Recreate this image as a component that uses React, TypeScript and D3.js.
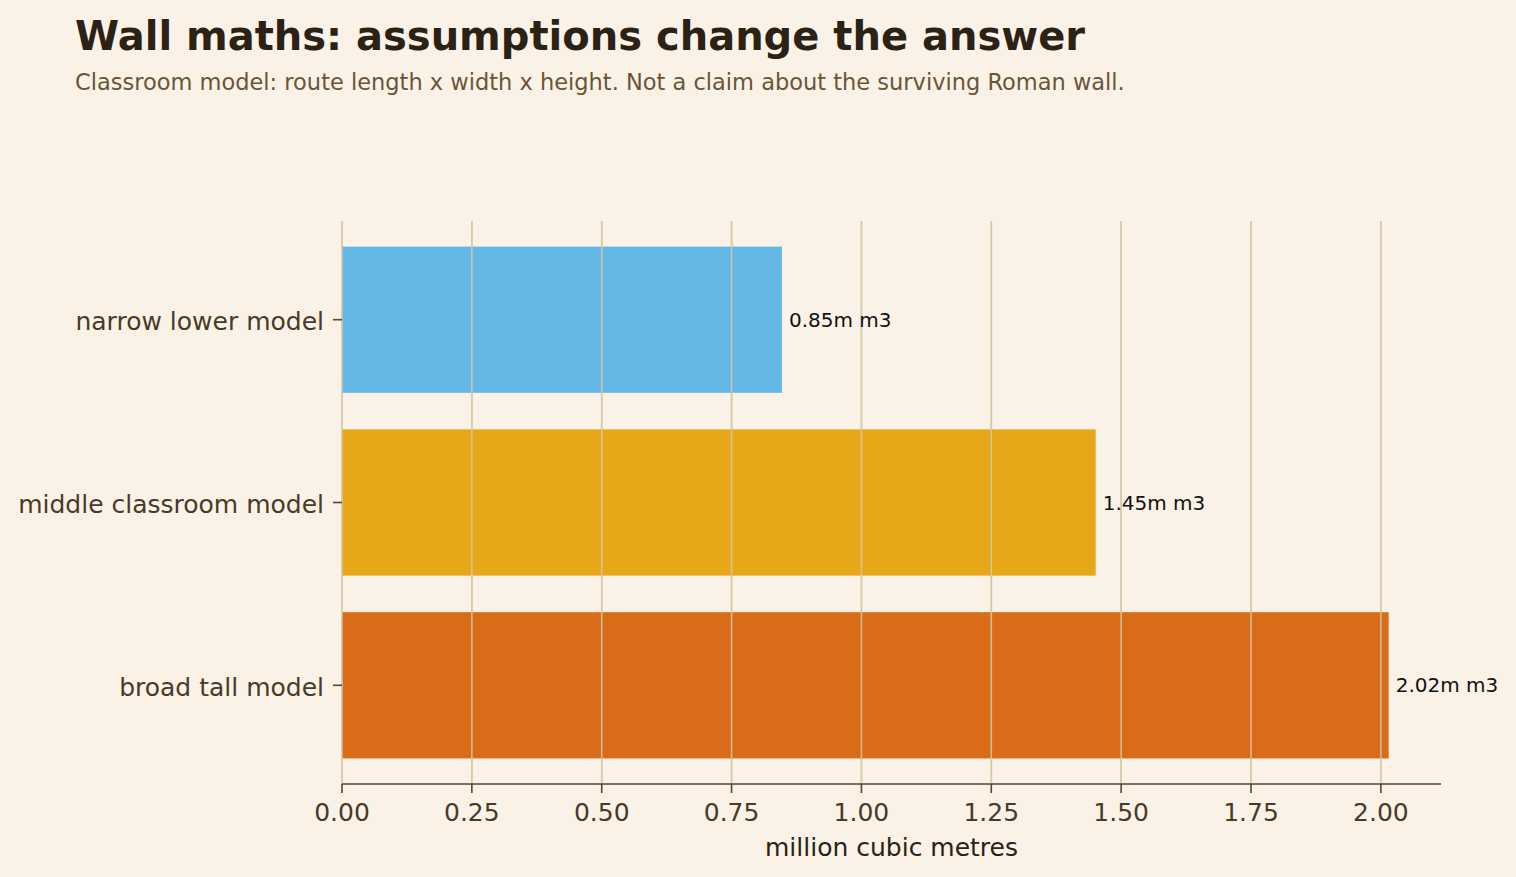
import * as d3 from 'd3';
import { ReactElement } from 'react';

// ─ Data ─────────────────────────────────────────────────────────────────────
const categories = ['broad tall model', 'middle classroom model', 'narrow lower model'];
const volumes = [2.015, 1.451, 0.847];
const valueLabels = ['2.02m m3', '1.45m m3', '0.85m m3'];
const barColors = ['#D86C18', '#E6A718', '#65B8E6'];
const xTicks = [0, 0.25, 0.5, 0.75, 1.0, 1.25, 1.5, 1.75, 2.0];

const W = 1516;
const H = 877;
const FONT = '"DejaVu Sans", sans-serif';

const App = (): ReactElement => {
  const plot = { left: 342, right: 1441, top: 221, bottom: 784 };

  const xMax = d3.max(volumes)! * 1.05;
  const x = d3.scaleLinear().domain([0, xMax]).range([plot.left, plot.right]);

  // matplotlib-style categorical axis: index 0 at bottom, 0.05 margins
  const y = d3.scaleLinear()
    .domain([-0.54, categories.length - 1 + 0.54])
    .range([plot.bottom, plot.top]);
  const barH = Math.abs(y(0.4) - y(-0.4));

  return (
    <div>
      <style>{'body{margin:0;background:#FAF2E6;}'}</style>
      <svg width={W} height={H} style={{ display: 'block', background: '#FAF2E6' }} fontFamily={FONT}>
        <rect width={W} height={H} fill="#FAF2E6" />

        {/* Title */}
        <text x={75} y={50} fontSize={40} fontWeight="bold" fill="#2B2215">
          Wall maths: assumptions change the answer
        </text>
        <text x={75} y={90} fontSize={22.5} fill="#6B5536">
          Classroom model: route length x width x height. Not a claim about the surviving Roman wall.
        </text>

        {/* Grid (under bars) */}
        {xTicks.map(t => (
          <line key={`g${t}`} x1={x(t)} x2={x(t)} y1={plot.top} y2={plot.bottom}
            stroke="#DDCCAE" strokeWidth={1.6} />
        ))}

        {/* Bars */}
        {volumes.map((v, i) => (
          <rect key={categories[i]} x={x(0)} y={y(i) - barH / 2}
            width={x(v) - x(0)} height={barH} fill={barColors[i]} />
        ))}

        {/* Grid over bars */}
        {xTicks.map(t => (
          <line key={`go${t}`} x1={x(t)} x2={x(t)} y1={plot.top} y2={plot.bottom}
            stroke="#D6C8AC" strokeOpacity={0.85} strokeWidth={1.6} />
        ))}

        {/* Value labels */}
        {volumes.map((v, i) => (
          <text key={`v${i}`} x={x(v) + 7} y={y(i)} dominantBaseline="central"
            fontSize={20} fill="#111">
            {valueLabels[i]}
          </text>
        ))}

        {/* Y axis ticks & labels */}
        {categories.map((c, i) => (
          <g key={`y${c}`}>
            <line x1={plot.left - 9} x2={plot.left} y1={y(i)} y2={y(i)} stroke="#5A4530" strokeWidth={1.6} />
            <text x={plot.left - 18} y={y(i) + 2} dominantBaseline="central" textAnchor="end"
              fontSize={25} fill="#4A3A28">
              {c}
            </text>
          </g>
        ))}

        {/* X axis */}
        <line x1={plot.left} x2={plot.right} y1={plot.bottom} y2={plot.bottom} stroke="#5A4530" strokeWidth={1.6} />
        {xTicks.map(t => (
          <g key={`x${t}`}>
            <line x1={x(t)} x2={x(t)} y1={plot.bottom} y2={plot.bottom + 9} stroke="#5A4530" strokeWidth={1.6} />
            <text x={x(t)} y={821} textAnchor="middle" fontSize={25} fill="#4A3A28">
              {d3.format('.2f')(t)}
            </text>
          </g>
        ))}
        <text x={(plot.left + plot.right) / 2} y={856} textAnchor="middle" fontSize={25} fill="#2B2215">
          million cubic metres
        </text>
      </svg>
    </div>
  );
};

export default App;
